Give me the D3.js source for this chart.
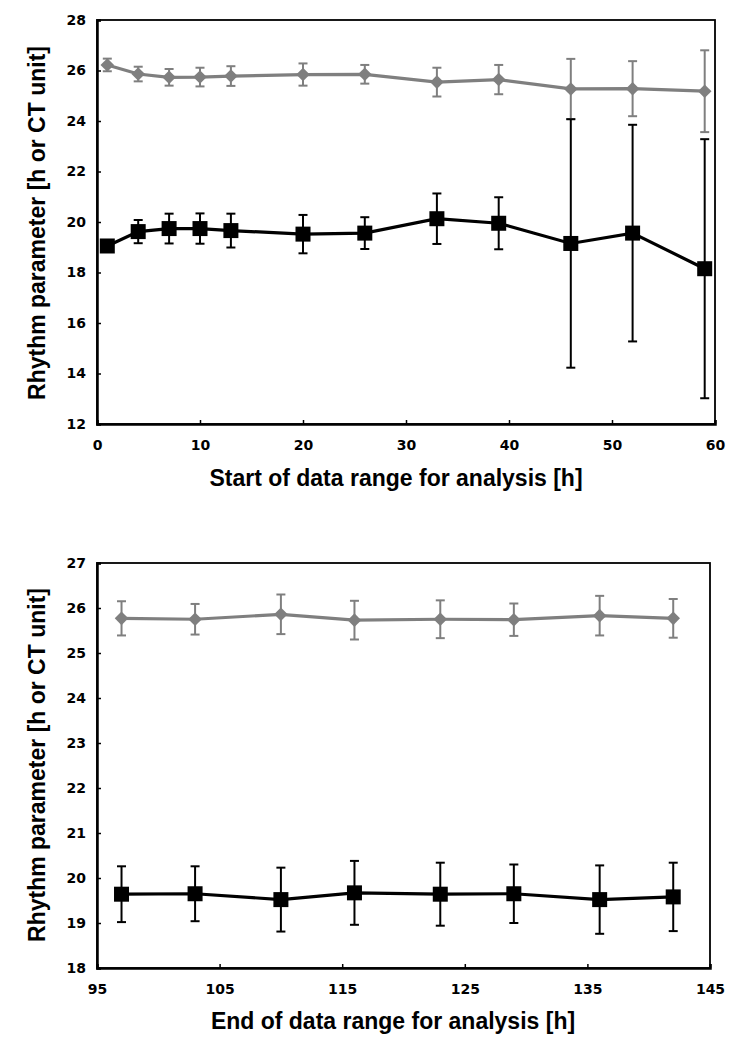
<!DOCTYPE html>
<html>
<head>
<meta charset="utf-8">
<script src="https://cdn.jsdelivr.net/npm/d3@7"></script>
<style>
  body { margin: 0; background: #fff; }
</style>
</head>
<body>
<svg id="chart" width="736" height="1050"></svg>
<script>
// top panel: start of data range
const startX = [1, 4, 7, 10, 13, 20, 26, 33, 39, 46, 52, 59];
const startGray = [26.22, 25.86, 25.73, 25.74, 25.78, 25.84, 25.85, 25.54, 25.64, 25.27, 25.28, 25.18];
const startGrayErr = [0.25, 0.29, 0.33, 0.37, 0.39, 0.44, 0.37, 0.57, 0.58, 1.19, 1.09, 1.62];
const startBlack = [19.05, 19.62, 19.74, 19.74, 19.66, 19.52, 19.56, 20.13, 19.95, 19.15, 19.56, 18.15];
const startBlackErr = [0.2, 0.46, 0.59, 0.6, 0.67, 0.76, 0.63, 1.0, 1.03, 4.92, 4.29, 5.13];
const startYTicks = [12, 14, 16, 18, 20, 22, 24, 26, 28];
const startXTicks = [0, 10, 20, 30, 40, 50, 60];

// bottom panel: end of data range
const endX = [97, 103, 110, 116, 123, 129, 136, 142];
const endGray = [25.77, 25.75, 25.86, 25.73, 25.75, 25.74, 25.83, 25.77];
const endGrayErr = [0.38, 0.34, 0.44, 0.43, 0.42, 0.36, 0.44, 0.43];
const endBlack = [19.64, 19.65, 19.52, 19.67, 19.64, 19.65, 19.52, 19.58];
const endBlackErr = [0.62, 0.61, 0.71, 0.71, 0.7, 0.65, 0.76, 0.76];
const endYTicks = [18, 19, 20, 21, 22, 23, 24, 25, 26, 27];
const endXTicks = [95, 105, 115, 125, 135, 145];

const svg = d3.select("#chart");
const GRAY = "#7f7f7f";

function panel(cfg) {
  const x = d3.scaleLinear().domain(cfg.xDomain).range([cfg.left, cfg.right]);
  const y = d3.scaleLinear().domain(cfg.yDomain).range([cfg.bottom, cfg.top]);
  const g = svg.append("g");

  // frame
  g.append("rect")
    .attr("x", cfg.left).attr("y", cfg.top)
    .attr("width", cfg.right - cfg.left).attr("height", cfg.bottom - cfg.top)
    .attr("fill", "none").attr("stroke", "#000").attr("stroke-width", 1.8);

  const yAxis = g.append("g")
    .attr("transform", `translate(${cfg.left},0)`)
    .call(d3.axisLeft(y).tickValues(cfg.yTicks).tickSize(-4).tickPadding(11).tickFormat(d3.format("d")));
  const xAxis = g.append("g")
    .attr("transform", `translate(0,${cfg.bottom})`)
    .call(d3.axisBottom(x).tickValues(cfg.xTicks).tickSize(-4).tickPadding(16).tickFormat(d3.format("d")));
  [yAxis, xAxis].forEach(a => {
    a.select(".domain").attr("stroke", "#000").attr("stroke-width", 2.5);
    a.selectAll(".tick line").attr("stroke", "#000").attr("stroke-width", 1.5);
    a.selectAll(".tick text")
      .attr("font-family", "DejaVu Sans, Verdana, sans-serif")
      .attr("font-weight", "bold")
      .attr("font-size", 14)
      .attr("fill", "#000");
  });

  const series = [
    { v: cfg.gray, e: cfg.grayErr, color: GRAY, shape: "diamond" },
    { v: cfg.black, e: cfg.blackErr, color: "#000", shape: "square" }
  ];

  series.forEach(s => {
    const pts = cfg.xs.map((xv, i) => ({ x: xv, v: s.v[i], e: s.e[i] }));
    const sg = g.append("g");

    // error bars
    const eb = sg.selectAll("g.err").data(pts).enter().append("g").attr("class", "err")
      .attr("stroke", s.color).attr("stroke-width", 2);
    eb.append("line")
      .attr("x1", d => x(d.x)).attr("x2", d => x(d.x))
      .attr("y1", d => y(d.v - d.e)).attr("y2", d => y(d.v + d.e));
    eb.append("line")
      .attr("x1", d => x(d.x) - 4.5).attr("x2", d => x(d.x) + 4.5)
      .attr("y1", d => y(d.v + d.e)).attr("y2", d => y(d.v + d.e));
    eb.append("line")
      .attr("x1", d => x(d.x) - 4.5).attr("x2", d => x(d.x) + 4.5)
      .attr("y1", d => y(d.v - d.e)).attr("y2", d => y(d.v - d.e));

    // line
    sg.append("path")
      .datum(pts)
      .attr("fill", "none").attr("stroke", s.color).attr("stroke-width", 3.2)
      .attr("d", d3.line().x(d => x(d.x)).y(d => y(d.v)));

    // markers
    if (s.shape === "square") {
      sg.selectAll("rect.m").data(pts).enter().append("rect").attr("class", "m")
        .attr("x", d => x(d.x) - 7.5).attr("y", d => y(d.v) - 7.5)
        .attr("width", 15).attr("height", 15).attr("fill", s.color);
    } else {
      const sym = d3.symbol().type(d3.symbolSquare).size(92);
      sg.selectAll("path.m").data(pts).enter().append("path").attr("class", "m")
        .attr("d", sym)
        .attr("transform", d => `translate(${x(d.x)},${y(d.v)}) rotate(45)`)
        .attr("fill", s.color);
    }
  });

  const titleFont = t => t
    .attr("font-family", "Liberation Sans, Arial, sans-serif")
    .attr("font-weight", "bold")
    .attr("font-size", 23)
    .attr("fill", "#000");

  g.append("text").call(titleFont)
    .attr("x", cfg.xTitlePos[0]).attr("y", cfg.xTitlePos[1])
    .attr("text-anchor", "middle").text(cfg.xTitle);
  g.append("text").call(titleFont)
    .attr("transform", `translate(${cfg.yTitlePos[0]},${cfg.yTitlePos[1]}) rotate(-90)`)
    .attr("text-anchor", "middle").text("Rhythm parameter [h or CT unit]");
}

panel({
  left: 97, right: 715, top: 20, bottom: 424,
  xDomain: [0, 60], yDomain: [12, 28],
  xTicks: startXTicks, yTicks: startYTicks,
  xs: startX, gray: startGray, grayErr: startGrayErr, black: startBlack, blackErr: startBlackErr,
  xTitle: "Start of data range for analysis [h]", xTitlePos: [396, 486], yTitlePos: [45, 223]
});

panel({
  left: 97, right: 710, top: 563, bottom: 968,
  xDomain: [95, 145], yDomain: [18, 27],
  xTicks: endXTicks, yTicks: endYTicks,
  xs: endX, gray: endGray, grayErr: endGrayErr, black: endBlack, blackErr: endBlackErr,
  xTitle: "End of data range for analysis [h]", xTitlePos: [393, 1029], yTitlePos: [45, 765]
});
</script>
</body>
</html>
